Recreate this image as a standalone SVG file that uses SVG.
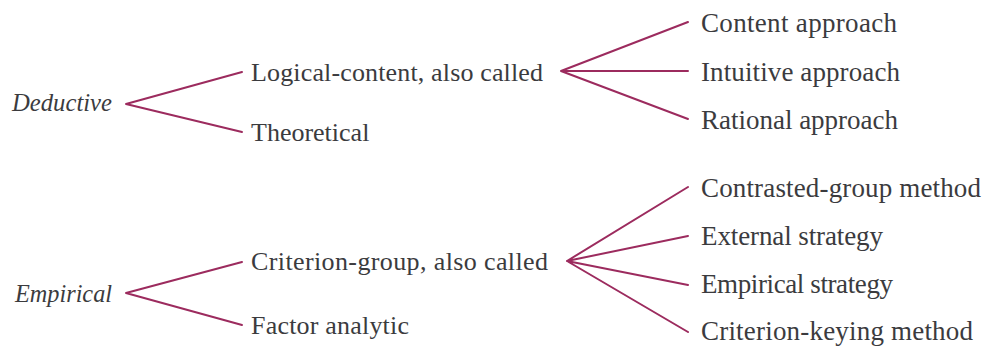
<svg xmlns="http://www.w3.org/2000/svg" width="989" height="352" viewBox="0 0 989 352">
<style>
text{font-family:"Liberation Serif","Times New Roman",serif;font-size:26px;fill:#3b3b3e}
.r{font-size:27px}
.it{font-style:italic}
.ln{stroke:#9c2b5e;stroke-width:2;fill:none;stroke-linecap:round}
</style>
<rect width="989" height="352" fill="#ffffff"/>
<g id="connectors">
<path class="ln" d="M126,104 L242,72 M126,104 L242,132"/>
<path class="ln" d="M561,71 L688,22 M561,71 L688,71 M561,71 L688,119"/>
<path class="ln" d="M126,293 L242,262 M126,293 L242,325"/>
<path class="ln" d="M567,261 L688,187 M567,261 L688,236 M567,261 L688,285 M567,261 L688,332"/>
</g>
<g id="deductive"><text class="it" x="12" y="111" textLength="100" lengthAdjust="spacingAndGlyphs">Deductive</text></g>
<g id="logical"><text x="251" y="81" textLength="292">Logical-content, also called</text></g>
<g id="theoretical"><text x="251" y="141">Theoretical</text></g>
<g id="content"><text class="r" x="701" y="32" textLength="196">Content approach</text></g>
<g id="intuitive"><text class="r" x="701" y="81" textLength="199">Intuitive approach</text></g>
<g id="rational"><text class="r" x="701" y="129" textLength="197">Rational approach</text></g>
<g id="empirical"><text class="it" x="15" y="302" textLength="97" lengthAdjust="spacingAndGlyphs">Empirical</text></g>
<g id="criterion-group"><text x="251" y="270" textLength="297">Criterion-group, also called</text></g>
<g id="factor"><text x="251" y="334" textLength="158">Factor analytic</text></g>
<g id="contrasted"><text class="r" x="701" y="197" textLength="280">Contrasted-group method</text></g>
<g id="external"><text class="r" x="701" y="245" textLength="182">External strategy</text></g>
<g id="empirical-strategy"><text class="r" x="701" y="293" textLength="192">Empirical strategy</text></g>
<g id="criterion-keying"><text class="r" x="701" y="340" textLength="272">Criterion-keying method</text></g>
</svg>
